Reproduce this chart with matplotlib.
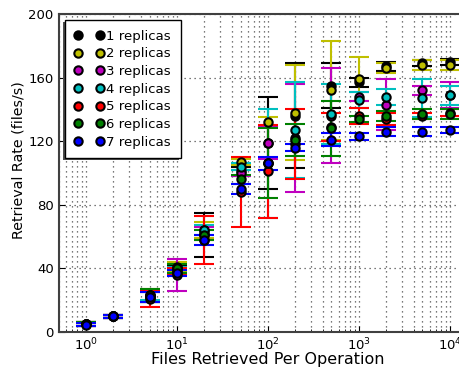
import numpy as np
import matplotlib
matplotlib.use("Agg")
import matplotlib.pyplot as plt
from matplotlib.lines import Line2D
from matplotlib.patches import Rectangle
from matplotlib.transforms import IdentityTransform

# files fetched per call
files = [1, 2, 5, 10, 20, 50, 100, 200, 500, 1000, 2000, 5000, 10000]

# mean retrieval rate (files/s) and spread, one list per replica count
rate_1 = [5, 10, 22, 40, 61, 101, 119, 136, 155, 157, 167, 169, 170]
err_1 = [1, 1, 3, 2, 14, 3, 29, 33, 14, 3, 3, 2, 2]
rate_2 = [5, 10, 23, 41, 64, 107, 132, 138, 152, 159, 166, 168, 168]
err_2 = [1, 1, 4, 3, 5, 2, 3, 30, 31, 14, 3, 3, 3]
rate_3 = [5, 10, 22, 36, 62, 100, 119, 122, 136, 148, 143, 152, 149]
err_3 = [1, 1, 3, 10, 4, 2, 10, 34, 30, 3, 16, 3, 8]
rate_4 = [5, 10, 23, 39, 64, 104, 106, 127, 137, 146, 148, 147, 149]
err_4 = [1, 1, 3, 2, 3, 2, 34, 30, 19, 5, 5, 12, 6]
rate_5 = [5, 10, 21, 38, 58, 88, 101, 118, 129, 136, 134, 136, 138]
err_5 = [1, 1, 5, 2, 15, 22, 29, 22, 9, 5, 4, 2, 2]
rate_6 = [5, 10, 23, 40, 61, 96, 106, 121, 128, 134, 136, 137, 137]
err_6 = [1, 1, 4, 3, 3, 3, 22, 10, 17, 2, 3, 3, 3]
rate_7 = [4.5, 10, 22, 37, 58, 90, 106, 116, 121, 123, 126, 126, 127]
err_7 = [1, 1, 3, 2, 3, 3, 4, 2, 4, 2, 3, 3, 2]

rates = [rate_1, rate_2, rate_3, rate_4, rate_5, rate_6, rate_7]
errs = [err_1, err_2, err_3, err_4, err_5, err_6, err_7]
labels = ["%d replicas" % n for n in range(1, 8)]
colors = ["k", (0.75, 0.75, 0), (0.75, 0, 0.75), (0, 0.75, 0.75), "r", (0, 0.5, 0), "b"]

W, H = 460, 367
fig = plt.figure(figsize=(W / 100.0, H / 100.0), dpi=100)
# axes run past the right edge of the canvas
ax = fig.add_axes([58.6 / W, 35.0 / H, 418.6 / W, 318.0 / H])

handles = []
for i in range(7):
    ax.errorbar(files, rates[i], yerr=errs[i], fmt="o", color=colors[i],
                ecolor=colors[i], mfc=colors[i], mec="k", mew=1.5, ms=6,
                elinewidth=1.5, capsize=7, capthick=2)
    handles.append(Line2D([], [], ls="none", marker="o", mfc=colors[i],
                          mec="k", mew=1.5, ms=6))

ax.set_xscale("log")
ax.set_xlim(0.5, 20000)
ax.set_ylim(0, 200)
ax.set_yticks([0, 40, 80, 120, 160, 200])

ax.grid(True, which="major", axis="both", color="0.3", ls=(0, (1, 3)), lw=0.9)
ax.grid(True, which="minor", axis="x", color="0.3", ls=(0, (1, 3)), lw=0.9)
ax.tick_params(which="both", direction="in", labelsize=9.5)
ax.tick_params(which="major", length=4)
ax.tick_params(which="minor", length=2)
for s in ax.spines.values():
    s.set_linewidth(1.5)
    s.set_color("0.25")

ax.set_xlabel("Files Retrieved Per Operation", fontsize=11.5, labelpad=-1)
ax.set_ylabel("Retrieval Rate (files/s)", fontsize=10.3)
ax.yaxis.set_label_coords(-0.080, 0.542)

leg = ax.legend(handles, labels, loc="upper left", numpoints=2, fontsize=9.5,
                fancybox=False, framealpha=1, edgecolor="k",
                handlelength=2.2, handletextpad=0.2, labelspacing=0.35,
                borderpad=0.75, borderaxespad=0.45)
leg.get_frame().set_linewidth(1)
leg.set_zorder(6)

# shadow behind the legend box
fig.canvas.draw()
bb = leg.get_window_extent()
shadow = Rectangle((bb.x0 - 2, bb.y0 - 2), bb.width, bb.height,
                   transform=IdentityTransform(), facecolor="0.3",
                   edgecolor="none", zorder=5.5, clip_on=False)
ax.add_artist(shadow)

fig.savefig("out.png", dpi=100)
